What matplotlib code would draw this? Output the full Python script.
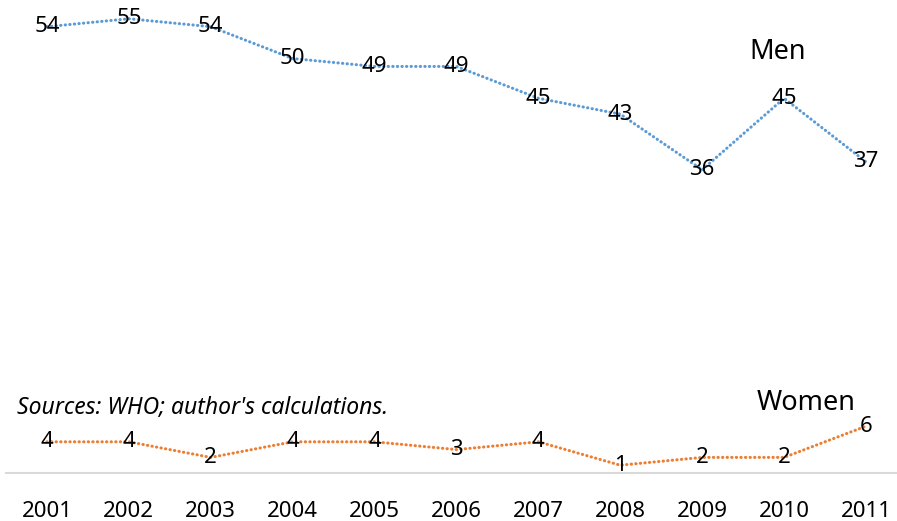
import matplotlib
matplotlib.use("Agg")
import matplotlib.pyplot as plt

years = [2001, 2002, 2003, 2004, 2005, 2006, 2007, 2008, 2009, 2010, 2011]
men = [54, 55, 54, 50, 49, 49, 45, 43, 36, 45, 37]
women = [4, 4, 2, 4, 4, 3, 4, 1, 2, 2, 6]

plt.rcParams['font.family'] = ['Noto Sans', 'DejaVu Sans']

W, H = 897, 521
fig = plt.figure(figsize=(W / 100, H / 100), dpi=100)

# axes spans px 6..897 horizontally, px 0..473 vertically (from top)
ax = fig.add_axes([6 / W, (H - 473) / H, 891 / W, 473 / H])
ax.set_xlim(2000.5, 2000.5 + 891 / 81.9)
ax.set_ylim(0, 473 / 7.8)

blue = '#5B9BD5'
orange = '#ED7D31'
dots = (0, (0.1, 1.4))

ax.plot(years, women, color=orange, lw=2.2, linestyle=dots,
        dash_capstyle='round')
for x, v in zip(years, women):
    ax.text(x, v, str(v), ha='center', va='center', fontsize=16, color='black')

# men sit on their own scale, slightly raised
ax2 = ax.twinx()
ax2.set_ylim(-17 / 7.95, 456 / 7.95)
ax2.plot(years, men, color=blue, lw=2.2, linestyle=dots,
         dash_capstyle='round')
for x, v in zip(years, men):
    ax2.text(x, v, str(v), ha='center', va='center', fontsize=16, color='black')

for a in (ax, ax2):
    for s in ['top', 'left', 'right']:
        a.spines[s].set_visible(False)
    a.set_yticks([])
ax2.spines['bottom'].set_visible(False)
ax.spines['bottom'].set_color('#d9d9d9')
ax.spines['bottom'].set_linewidth(1.5)

ax.set_xticks(years)
ax.set_xticklabels([str(y) for y in years], fontsize=16)
ax.tick_params(axis='x', length=0, pad=20)

fig.text(778 / W, 1 - 52 / H, 'Men', ha='center', va='center', fontsize=19.5)
fig.text(806 / W, 1 - 403 / H, 'Women', ha='center', va='center', fontsize=19.5)
fig.text(17 / W, 1 - 408 / H, "Sources: WHO; author's calculations.",
         ha='left', va='center', fontsize=16.5, style='italic')

fig.savefig('out.png', dpi=100)
